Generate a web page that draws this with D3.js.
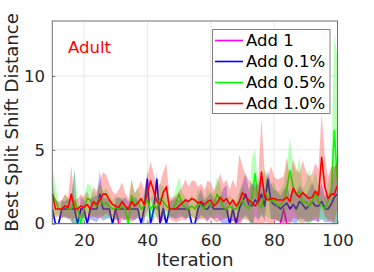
<!DOCTYPE html>
<html>
<head>
<meta charset="utf-8">
<script src="https://cdn.jsdelivr.net/npm/d3@7"></script>
<style>
	body { margin: 0; background: #fff; }
	text { font-family: "DejaVu Sans", sans-serif; }
</style>
</head>
<body>
<div id="chart"></div>
<script>
// Iterations on the x axis
var iterations = d3.range(10, 101);
// Legend labels
var seriesLabels = ["Add 1", "Add 0.1%", "Add 0.5%", "Add 1.0%"];
// Ticks
var xTicks = [20, 40, 60, 80, 100];
var yTicks = [0, 5, 10];

// Add 1 (mean only)
var add1Mean = [
	0, 0, 0, 0, 0, 0, 0, 0, 0, 0,
	0, 0, 0, 0, 0, 0, 0, 0, 0, 0,
	1, 0, 0, 0, 0, 0, 0, 0, 0, 0,
	0, 0, 0, 0, 0, 1, 0, 0, 0, 0,
	0, 0, 0, 0, 0, 0, 0, 0, 0, 0,
	0, 0, 0, 0, 0, 0, 0, 0, 0, 0,
	0, 0, 0, 0, 0, 0, 0, 0, 0, 0,
	0, 0, 0, 1, 0, 0, 0, 0, 0, 0,
	0, 0, 0, 0, 0, 0, 0, 0, 0, 0,
	0
];
// Add 0.1%
var add01Mean = [
	1, 0, 0, 1, 1, 1, 1, 1, 0, 1,
	1, 0, 1, 1, 1, 2, 1, 1, 1, 0,
	1, 1, 1, 1, 1, 1, 1, 1, 0, 1,
	3, 0, 1, 3, 0, 1, 0, 1, 1, 1,
	1, 1, 1, 1, 0, 0, 1, 1.5, 1, 1,
	1.3, 1, 1, 1, 1, 1, 0, 1, 0, 1,
	1.5, 2, 1.3, 1.2, 1.6, 1.4, 2.0, 1.2, 3.0, 1.5,
	1.3, 1.2, 1.0, 1.2, 1.4, 1.0, 1.3, 1.0, 1.5, 1.3,
	1.0, 1.2, 1.5, 1.2, 1.2, 1.5, 1.0, 1.0, 1.3, 1.8,
	2.0
];
var add01Sd = [
	0.5, 0, 0, 0.6, 0.5, 0.7, 0.6, 2.7, 0, 0.8,
	0.6, 0, 0.7, 0.8, 0.9, 1.6, 0.8, 0.7, 0.6, 0,
	0.7, 0.8, 0.6, 0.8, 0.5, 0.7, 0.8, 0.6, 0, 1.0,
	0.6, 0, 0.8, 0.5, 0, 0.7, 0, 0.5, 0.6, 0.7,
	0.6, 0.5, 0.7, 0.6, 0, 0, 0.8, 0.9, 0.6, 0.8,
	0.8, 0.7, 0.6, 0.8, 1.4, 1.6, 0, 0.8, 0, 0.9,
	1.2, 1.4, 1.0, 1.5, 1.1, 1.2, 1.3, 1.0, 0.6, 1.2,
	1.0, 1.0, 0.9, 1.1, 1.2, 0.9, 1.2, 1.0, 1.1, 1.0,
	0.9, 1.1, 1.3, 1.0, 1.1, 1.2, 0.9, 0.9, 1.2, 2.0,
	2.2
];
// Add 0.5%
var add05Mean = [
	2.0, 1.6, 1.0, 1.0, 1.2, 1.0, 1.0, 1.5, 1.0, 0.0,
	1.0, 1.7, 1.6, 1.3, 1.2, 1.7, 1.3, 1.4, 1.2, 1.0,
	1.1, 1.0, 1.2, 1.0, 0.0, 1.9, 1.2, 1.5, 1.0, 1.2,
	1.6, 1.0, 1.3, 1.0, 1.7, 1.5, 1.2, 1.0, 1.0, 1.4,
	2.0, 1.3, 1.1, 1.0, 1.2, 1.0, 1.4, 1.2, 1.0, 1.5,
	1.2, 1.3, 2.0, 1.6, 1.1, 1.0, 1.2, 1.0, 1.0, 1.3,
	1.6, 1.2, 1.0, 1.8, 3.4, 1.3, 1.1, 2.2, 1.8, 1.5,
	1.6, 1.2, 1.3, 1.5, 2.4, 3.6, 2.5, 2.0, 2.2, 1.4,
	1.5, 1.2, 1.5, 2.0, 1.5, 1.2, 1.0, 1.5, 2.0, 6.3,
	2.7
];
var add05Sd = [
	1.8, 1.0, 0.4, 0.5, 0.8, 0.6, 0.7, 2.1, 0.8, 0.5,
	0.8, 1.0, 1.0, 0.9, 0.7, 1.1, 0.9, 1.0, 0.8, 0.6,
	0.8, 0.7, 0.6, 0.5, 0.4, 1.3, 0.8, 1.0, 0.6, 0.8,
	1.1, 0.7, 0.9, 0.6, 1.0, 1.0, 0.8, 0.5, 0.6, 1.0,
	1.2, 0.8, 0.7, 0.5, 0.8, 0.6, 1.0, 0.8, 0.6, 1.0,
	0.8, 0.9, 1.2, 1.0, 0.7, 0.6, 0.8, 0.6, 0.6, 0.9,
	1.1, 0.8, 0.7, 2.6, 1.7, 0.9, 0.7, 1.6, 1.4, 1.2,
	1.2, 0.9, 1.0, 1.2, 1.6, 2.2, 1.6, 1.4, 2.3, 1.0,
	1.2, 2.5, 1.2, 1.5, 1.1, 0.9, 0.7, 1.2, 1.6, 6.5,
	8.5
];
// Add 1.0%
var add10Mean = [
	2.0, 1.0, 1.0, 1.0, 1.2, 1.1, 2.0, 1.0, 1.0, 1.2,
	1.1, 1.3, 1.0, 1.5, 1.3, 1.6, 2.0, 2.0, 1.6, 1.3,
	1.2, 1.1, 1.5, 1.2, 1.0, 1.5, 1.2, 1.4, 1.7, 1.3,
	2.0, 2.9, 2.2, 1.5, 1.3, 2.1, 2.5, 1.0, 1.0, 1.0,
	1.2, 1.4, 1.6, 1.5, 1.7, 1.6, 1.4, 1.5, 1.3, 1.5,
	1.6, 1.2, 1.4, 1.8, 1.5, 1.7, 1.3, 1.6, 1.2, 1.5,
	2.1, 1.8, 1.6, 1.4, 1.2, 1.5, 3.5, 1.8, 1.6, 1.7,
	1.7, 1.6, 1.6, 1.6, 1.8, 1.5, 2.4, 2.0, 1.8, 2.1,
	1.9, 1.7, 1.8, 2.2, 1.9, 4.5, 2.5, 1.7, 2.0, 2.0,
	2.6
];
var add10Sd = [
	1.0, 0.6, 0.5, 0.6, 0.8, 0.7, 1.9, 0.6, 0.7, 0.8,
	0.7, 0.9, 0.6, 1.0, 0.9, 1.2, 1.5, 1.3, 1.1, 0.9,
	0.8, 1.2, 1.3, 0.9, 0.7, 1.4, 0.9, 1.0, 1.2, 1.0,
	1.2, 1.3, 1.2, 1.1, 1.4, 1.4, 1.6, 0.7, 0.8, 0.9,
	1.0, 1.1, 1.4, 1.0, 1.2, 1.3, 1.1, 1.2, 1.0, 1.4,
	1.2, 1.0, 1.3, 1.6, 1.2, 1.3, 1.0, 1.4, 1.2, 3.2,
	1.8, 1.5, 1.4, 1.3, 1.2, 1.6, 3.6, 1.7, 1.5, 2.2,
	1.5, 1.4, 1.5, 1.6, 2.7, 1.5, 2.0, 1.7, 1.6, 2.2,
	1.7, 1.5, 1.6, 1.9, 1.8, 3.0, 2.0, 1.5, 1.8, 1.9,
	1.6
];

// Canvas / plot box
var canvas = { width: 374, height: 272 };
var plot = { left: 52.3, right: 337.5, top: 21, bottom: 223.7 };
// Styles
var colors = ["#ff00ff", "#0000ff", "#00ff00", "#ff0000"];
var font = { tick: "16.5px", label: "18.2px", legend: "16.5px" };

var series = [
	{ mean: add1Mean, sd: null },
	{ mean: add01Mean, sd: add01Sd },
	{ mean: add05Mean, sd: add05Sd },
	{ mean: add10Mean, sd: add10Sd }
];

var x = d3.scaleLinear().domain([10, 100]).range([plot.left, plot.right]);
var y = d3.scaleLinear().domain([0, 13.72]).range([plot.bottom, plot.top]);

var svg = d3.select("#chart")
	.append("svg")
	.attr("width", canvas.width)
	.attr("height", canvas.height);

svg.append("defs").append("clipPath")
	.attr("id", "clip")
	.append("rect")
	.attr("x", plot.left)
	.attr("y", plot.top)
	.attr("width", plot.right - plot.left)
	.attr("height", plot.bottom - plot.top);

// Grid lines
svg.append("g")
	.selectAll("line")
	.data(xTicks)
	.enter()
	.append("line")
	.attr("x1", function(d) { return x(d); })
	.attr("x2", function(d) { return x(d); })
	.attr("y1", plot.top)
	.attr("y2", plot.bottom)
	.attr("stroke", "#e8e8e8")
	.attr("stroke-width", 1);
svg.append("g")
	.selectAll("line")
	.data(yTicks.slice(1))
	.enter()
	.append("line")
	.attr("x1", plot.left)
	.attr("x2", plot.right)
	.attr("y1", function(d) { return y(d); })
	.attr("y2", function(d) { return y(d); })
	.attr("stroke", "#e8e8e8")
	.attr("stroke-width", 1);

// Bands and lines, one series after the other
var area = d3.area()
	.x(function(d, i) { return x(iterations[i]); })
	.y0(function(d) { return y(d[0] - d[1]); })
	.y1(function(d) { return y(d[0] + d[1]); });
var line = d3.line()
	.x(function(d, i) { return x(iterations[i]); })
	.y(function(d) { return y(d); });

var marks = svg.append("g").attr("clip-path", "url(#clip)");
series.forEach(function(s, k) {
	if (s.sd) {
		marks.append("path")
			.datum(s.mean.map(function(m, i) { return [m, s.sd[i]]; }))
			.attr("d", area)
			.attr("fill", colors[k])
			.attr("fill-opacity", 0.28)
			.attr("stroke", "none");
	}
	marks.append("path")
		.datum(s.mean)
		.attr("d", line)
		.attr("fill", "none")
		.attr("stroke", colors[k])
		.attr("stroke-width", 1.6)
		.attr("stroke-linejoin", "round");
});

// Axes
var xAxis = svg.append("g")
	.attr("transform", "translate(0," + plot.bottom + ")")
	.call(d3.axisBottom(x).tickValues(xTicks).tickSize(-3).tickPadding(10.6));
var yAxis = svg.append("g")
	.attr("transform", "translate(" + plot.left + ",0)")
	.call(d3.axisLeft(y).tickValues(yTicks).tickSize(-3).tickPadding(7.3));
[xAxis, yAxis].forEach(function(a) {
	a.select(".domain").remove();
	a.selectAll("line").attr("stroke", "#707070");
	a.selectAll("text")
		.attr("fill", "#262626")
		.style("font-size", font.tick)
		.style("font-family", "DejaVu Sans");
});

// Box
svg.append("rect")
	.attr("x", plot.left)
	.attr("y", plot.top)
	.attr("width", plot.right - plot.left)
	.attr("height", plot.bottom - plot.top)
	.attr("fill", "none")
	.attr("stroke", "#707070")
	.attr("stroke-width", 1);

// Axis labels
svg.append("text")
	.text("Iteration")
	.attr("x", (plot.left + plot.right) / 2)
	.attr("y", 266)
	.attr("text-anchor", "middle")
	.attr("fill", "#262626")
	.style("font-size", font.label);
svg.append("text")
	.text("Best Split Shift Distance")
	.attr("transform", "translate(18," + (plot.top + plot.bottom) / 2 + ") rotate(-90)")
	.attr("text-anchor", "middle")
	.attr("fill", "#262626")
	.style("font-size", font.label);

// Dataset tag
svg.append("text")
	.text("Adult")
	.attr("x", 68)
	.attr("y", 53)
	.attr("fill", "#ff0000")
	.style("font-size", font.legend);

// Legend
var legend = { x: 212.5, y: 29.5, w: 117.5, h: 84, first: 40.5, row: 21 };
svg.append("rect")
	.attr("x", legend.x)
	.attr("y", legend.y)
	.attr("width", legend.w)
	.attr("height", legend.h)
	.attr("fill", "#fff")
	.attr("stroke", "#808080")
	.attr("stroke-width", 1);
var items = svg.selectAll("legend_item")
	.data(seriesLabels)
	.enter()
	.append("g")
	.attr("transform", function(d, i) {
		return "translate(0," + (legend.first + i * legend.row) + ")";
	});
items.append("line")
	.attr("x1", 215)
	.attr("x2", 243)
	.attr("stroke", function(d, i) { return colors[i]; })
	.attr("stroke-width", 1.6);
items.append("text")
	.text(function(d) { return d; })
	.attr("x", 246)
	.attr("dy", "0.36em")
	.attr("fill", "#000")
	.style("font-size", font.legend);
</script>
</body>
</html>
